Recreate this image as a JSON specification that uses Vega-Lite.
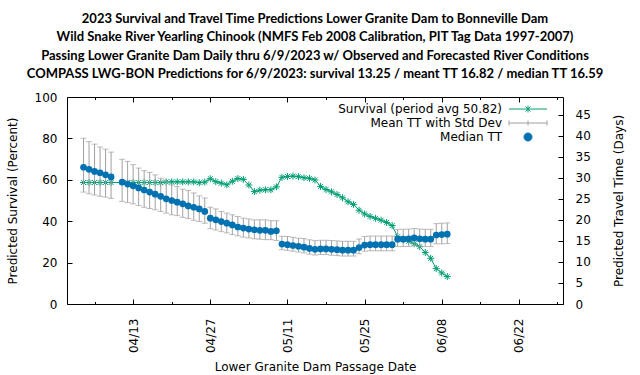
{
  "$schema": "https://vega.github.io/schema/vega-lite/v6.json",
  "width": 496,
  "height": 207,
  "autosize": {"type": "none"},
  "padding": {"left": 67, "top": 97, "right": 77, "bottom": 71},
  "background": "white",
  "config": {
    "view": {"stroke": "black", "strokeWidth": 1},
    "font": "DejaVu Sans",
    "axis": {
      "labelFont": "DejaVu Sans", "labelFontSize": 12, "labelColor": "black",
      "titleFont": "DejaVu Sans", "titleFontSize": 12, "titleFontWeight": "normal", "titleColor": "black",
      "tickColor": "black", "domain": false, "grid": false,
      "labelFlush": false, "labelOverlap": false, "labelBound": false
    }
  },
  "title": {
    "text": [
      "2023 Survival and Travel Time Predictions Lower Granite Dam to Bonneville Dam",
      "Wild Snake River Yearling Chinook (NMFS Feb 2008 Calibration, PIT Tag Data 1997-2007)",
      "Passing Lower Granite Dam Daily thru 6/9/2023 w/ Observed and Forecasted River Conditions",
      "COMPASS LWG-BON Predictions for 6/9/2023: survival 13.25 / meant TT 16.82 / median TT 16.59"
    ],
    "font": "Lato", "fontSize": 13, "fontWeight": "bold", "color": "black",
    "anchor": "middle", "frame": "group", "offset": 10, "lineHeight": 18.3
  },
  "data": {"values": [
    {"date": "2023-04-04T00:00", "surv": 58.7, "med": 32.5, "mean": 33.0, "sd": 6.4},
    {"date": "2023-04-05T00:00", "surv": 58.7, "med": 32.0, "mean": 32.4, "sd": 6.2},
    {"date": "2023-04-06T00:00", "surv": 58.7, "med": 31.5, "mean": 31.95, "sd": 6.05},
    {"date": "2023-04-07T00:00", "surv": 58.7, "med": 31.2, "mean": 31.45, "sd": 5.85},
    {"date": "2023-04-08T00:00", "surv": 58.7, "med": 30.7, "mean": 31.1, "sd": 5.7},
    {"date": "2023-04-09T00:00", "surv": 58.7, "med": 30.2, "mean": 30.6, "sd": 5.5},
    {"date": "2023-04-11T00:00", "surv": 58.7, "med": 29.0, "mean": 29.4, "sd": 5.0},
    {"date": "2023-04-12T00:00", "surv": 58.7, "med": 28.5, "mean": 29.0, "sd": 4.9},
    {"date": "2023-04-13T00:00", "surv": 58.7, "med": 28.1, "mean": 28.45, "sd": 4.65},
    {"date": "2023-04-14T00:00", "surv": 58.7, "med": 27.6, "mean": 27.85, "sd": 4.45},
    {"date": "2023-04-15T00:00", "surv": 58.7, "med": 27.1, "mean": 27.35, "sd": 4.35},
    {"date": "2023-04-16T00:00", "surv": 58.7, "med": 26.6, "mean": 27.0, "sd": 4.3},
    {"date": "2023-04-17T00:00", "surv": 58.7, "med": 26.1, "mean": 26.55, "sd": 4.15},
    {"date": "2023-04-18T00:00", "surv": 58.6, "med": 25.6, "mean": 25.95, "sd": 3.95},
    {"date": "2023-04-19T00:00", "surv": 59.0, "med": 25.0, "mean": 25.35, "sd": 3.75},
    {"date": "2023-04-20T00:00", "surv": 59.0, "med": 24.6, "mean": 24.75, "sd": 3.55},
    {"date": "2023-04-21T00:00", "surv": 59.0, "med": 24.2, "mean": 24.45, "sd": 3.45},
    {"date": "2023-04-22T00:00", "surv": 59.0, "med": 23.8, "mean": 23.95, "sd": 3.35},
    {"date": "2023-04-23T00:00", "surv": 59.0, "med": 23.3, "mean": 23.65, "sd": 3.35},
    {"date": "2023-04-24T00:00", "surv": 59.0, "med": 23.0, "mean": 23.15, "sd": 3.25},
    {"date": "2023-04-25T00:00", "surv": 58.6, "med": 22.6, "mean": 22.65, "sd": 3.05},
    {"date": "2023-04-26T00:00", "surv": 58.9, "med": 22.0, "mean": 22.2, "sd": 3.0},
    {"date": "2023-04-27T00:00", "surv": 60.5, "med": 20.4, "mean": 20.45, "sd": 2.55},
    {"date": "2023-04-28T00:00", "surv": 59.1, "med": 20.0, "mean": 20.1, "sd": 2.5},
    {"date": "2023-04-29T00:00", "surv": 58.4, "med": 19.6, "mean": 19.6, "sd": 2.4},
    {"date": "2023-04-30T00:00", "surv": 57.6, "med": 19.2, "mean": 19.25, "sd": 2.35},
    {"date": "2023-05-01T00:00", "surv": 59.3, "med": 18.8, "mean": 18.85, "sd": 2.35},
    {"date": "2023-05-02T00:00", "surv": 60.6, "med": 18.3, "mean": 18.5, "sd": 2.3},
    {"date": "2023-05-03T00:00", "surv": 60.2, "med": 18.05, "mean": 18.15, "sd": 2.25},
    {"date": "2023-05-04T00:00", "surv": 57.5, "med": 17.8, "mean": 17.95, "sd": 2.25},
    {"date": "2023-05-05T00:00", "surv": 54.3, "med": 17.65, "mean": 17.75, "sd": 2.25},
    {"date": "2023-05-06T00:00", "surv": 55.0, "med": 17.5, "mean": 17.7, "sd": 2.3},
    {"date": "2023-05-07T00:00", "surv": 55.2, "med": 17.5, "mean": 17.65, "sd": 2.35},
    {"date": "2023-05-08T00:00", "surv": 55.2, "med": 17.25, "mean": 17.55, "sd": 2.25},
    {"date": "2023-05-09T00:00", "surv": 56.6, "med": 17.4, "mean": 17.45, "sd": 2.35},
    {"date": "2023-05-10T00:00", "surv": 61.2, "med": 14.25, "mean": 14.5, "sd": 1.6},
    {"date": "2023-05-11T00:00", "surv": 61.6, "med": 14.1, "mean": 14.4, "sd": 1.65},
    {"date": "2023-05-12T00:00", "surv": 61.8, "med": 13.9, "mean": 14.2, "sd": 1.65},
    {"date": "2023-05-13T00:00", "surv": 61.5, "med": 13.7, "mean": 14.0, "sd": 1.65},
    {"date": "2023-05-14T00:00", "surv": 61.0, "med": 13.5, "mean": 13.85, "sd": 1.7},
    {"date": "2023-05-15T00:00", "surv": 60.7, "med": 13.2, "mean": 13.55, "sd": 1.7},
    {"date": "2023-05-16T00:00", "surv": 59.9, "med": 13.0, "mean": 13.35, "sd": 1.7},
    {"date": "2023-05-17T00:00", "surv": 56.8, "med": 13.1, "mean": 13.45, "sd": 1.7},
    {"date": "2023-05-18T00:00", "surv": 55.3, "med": 13.1, "mean": 13.45, "sd": 1.7},
    {"date": "2023-05-19T00:00", "surv": 54.2, "med": 13.0, "mean": 13.35, "sd": 1.75},
    {"date": "2023-05-20T00:00", "surv": 52.9, "med": 12.9, "mean": 13.25, "sd": 1.75},
    {"date": "2023-05-21T00:00", "surv": 51.3, "med": 12.8, "mean": 13.15, "sd": 1.75},
    {"date": "2023-05-22T00:00", "surv": 49.4, "med": 12.8, "mean": 13.15, "sd": 1.75},
    {"date": "2023-05-23T00:00", "surv": 48.1, "med": 12.8, "mean": 13.15, "sd": 1.75},
    {"date": "2023-05-24T00:00", "surv": 45.3, "med": 13.4, "mean": 13.7, "sd": 1.75},
    {"date": "2023-05-25T00:00", "surv": 43.5, "med": 14.0, "mean": 14.3, "sd": 1.75},
    {"date": "2023-05-26T00:00", "surv": 42.3, "med": 14.1, "mean": 14.4, "sd": 1.75},
    {"date": "2023-05-27T00:00", "surv": 41.4, "med": 14.1, "mean": 14.4, "sd": 1.75},
    {"date": "2023-05-28T00:00", "surv": 40.5, "med": 14.1, "mean": 14.4, "sd": 1.75},
    {"date": "2023-05-29T00:00", "surv": 39.4, "med": 14.1, "mean": 14.4, "sd": 1.75},
    {"date": "2023-05-30T00:00", "surv": 37.9, "med": 14.1, "mean": 14.4, "sd": 1.75},
    {"date": "2023-05-31T00:00", "surv": 32.5, "med": 15.4, "mean": 15.7, "sd": 2.05},
    {"date": "2023-06-01T00:00", "surv": 31.4, "med": 15.4, "mean": 15.7, "sd": 2.05},
    {"date": "2023-06-02T00:00", "surv": 30.3, "med": 15.5, "mean": 15.75, "sd": 2.05},
    {"date": "2023-06-03T00:00", "surv": 29.1, "med": 15.7, "mean": 15.9, "sd": 2.05},
    {"date": "2023-06-04T00:00", "surv": 27.7, "med": 15.5, "mean": 15.75, "sd": 2.05},
    {"date": "2023-06-05T00:00", "surv": 24.9, "med": 15.4, "mean": 15.7, "sd": 2.05},
    {"date": "2023-06-06T00:00", "surv": 22.1, "med": 15.4, "mean": 15.7, "sd": 2.05},
    {"date": "2023-06-07T00:00", "surv": 17.1, "med": 16.4, "mean": 16.7, "sd": 2.4},
    {"date": "2023-06-08T00:00", "surv": 15.0, "med": 16.5, "mean": 16.75, "sd": 2.45},
    {"date": "2023-06-09T00:00", "surv": 13.25, "med": 16.59, "mean": 16.82, "sd": 2.45}
  ]},
  "layer": [
    {
      "layer": [
        {
          "mark": {"type": "line", "color": "#009e73", "strokeWidth": 1},
          "encoding": {
            "x": {"field": "date", "type": "temporal",
              "scale": {"domain": [{"year": 2023, "month": 4, "date": 1}, {"year": 2023, "month": 6, "date": 30}]},
              "title": "Lower Granite Dam Passage Date",
              "axis": {
                "orient": "bottom",
                "values": [
                  {"year": 2023, "month": 4, "date": 6}, {"year": 2023, "month": 4, "date": 13}, {"year": 2023, "month": 4, "date": 20}, {"year": 2023, "month": 4, "date": 27},
                  {"year": 2023, "month": 5, "date": 4}, {"year": 2023, "month": 5, "date": 11}, {"year": 2023, "month": 5, "date": 18}, {"year": 2023, "month": 5, "date": 25},
                  {"year": 2023, "month": 6, "date": 1}, {"year": 2023, "month": 6, "date": 8}, {"year": 2023, "month": 6, "date": 15}, {"year": 2023, "month": 6, "date": 22},
                  {"year": 2023, "month": 6, "date": 29}
                ],
                "labelExpr": "round((datum.value - datetime(2023,3,13)) / 864e5) % 14 == 0 ? timeFormat(datum.value, '%m/%d') : ''",
                "labelAngle": 270,
                "labelPadding": 19,
                "tickSize": {"condition": {"test": "round((datum.value - datetime(2023,3,13)) / 864e5) % 14 == 0", "value": -5}, "value": -2.5},
                "titlePadding": 9
              }
            },
            "y": {"field": "surv", "type": "quantitative",
              "scale": {"domain": [0, 100], "nice": false},
              "title": "Predicted Survival (Percent)",
              "axis": {"orient": "left", "values": [0, 20, 40, 60, 80, 100], "tickSize": -5, "labelPadding": 15, "titlePadding": 15}
            }
          }
        },
        {
          "mark": {"type": "point", "shape": "M-1,0H1M0,-1V1M-0.7,-0.7L0.7,0.7M-0.7,0.7L0.7,-0.7", "filled": false, "color": "#009e73", "size": 49, "strokeWidth": 1, "opacity": 1},
          "encoding": {
            "x": {"field": "date", "type": "temporal"},
            "y": {"field": "surv", "type": "quantitative"}
          }
        }
      ]
    },
    {
      "layer": [
        {
          "mark": {"type": "errorbar", "color": "#a0a0a0", "thickness": 1, "ticks": {"size": 6, "color": "#a0a0a0"}},
          "encoding": {
            "x": {"field": "date", "type": "temporal",
              "axis": {
                "orient": "top", "labels": false, "title": null,
                "values": [
                  {"year": 2023, "month": 4, "date": 6}, {"year": 2023, "month": 4, "date": 13}, {"year": 2023, "month": 4, "date": 20}, {"year": 2023, "month": 4, "date": 27},
                  {"year": 2023, "month": 5, "date": 4}, {"year": 2023, "month": 5, "date": 11}, {"year": 2023, "month": 5, "date": 18}, {"year": 2023, "month": 5, "date": 25},
                  {"year": 2023, "month": 6, "date": 1}, {"year": 2023, "month": 6, "date": 8}, {"year": 2023, "month": 6, "date": 15}, {"year": 2023, "month": 6, "date": 22},
                  {"year": 2023, "month": 6, "date": 29}
                ],
                "tickSize": {"condition": {"test": "round((datum.value - datetime(2023,3,13)) / 864e5) % 14 == 0", "value": -5}, "value": -2.5}
              }
            },
            "y": {"field": "mean", "type": "quantitative",
              "scale": {"domain": [0, 49.2], "nice": false},
              "title": "Predicted Travel Time (Days)",
              "axis": {"orient": "right", "values": [0, 5, 10, 15, 20, 25, 30, 35, 40, 45], "tickSize": -5, "labelPadding": 17, "titleAngle": 270, "titlePadding": 35}
            },
            "yError": {"field": "sd"}
          }
        },
        {
          "mark": {"type": "circle", "color": "#0072b2", "size": 45, "opacity": 1},
          "encoding": {
            "x": {"field": "date", "type": "temporal"},
            "y": {"field": "med", "type": "quantitative",
              "scale": {"domain": [0, 49.2], "nice": false},
              "title": "Predicted Travel Time (Days)",
              "axis": {"orient": "right", "values": [0, 5, 10, 15, 20, 25, 30, 35, 40, 45], "tickSize": -5, "labelPadding": 17, "titleAngle": 270, "titlePadding": 35}
            }
          }
        }
      ]
    },
    {
      "transform": [{"filter": "false"}],
      "mark": {"type": "point", "filled": true, "opacity": 1, "strokeWidth": 1},
      "encoding": {
        "color": {"field": "series", "type": "nominal",
          "scale": {"domain": ["Survival (period avg 50.82)", "Mean TT with Std Dev", "Median TT"], "range": ["#009e73", "#a0a0a0", "#0072b2"]},
          "legend": {"title": null, "orient": "none", "legendX": 455, "legendY": 6, "labelAlign": "right", "labelOffset": -32, "symbolSize": 100, "symbolStrokeWidth": 1, "labelFont": "DejaVu Sans", "labelFontSize": 12, "labelColor": "black", "rowPadding": 2, "padding": 0, "labelLimit": 400}
        },
        "stroke": {"field": "series", "type": "nominal",
          "scale": {"domain": ["Survival (period avg 50.82)", "Mean TT with Std Dev", "Median TT"], "range": ["#009e73", "#a0a0a0", "#0072b2"]},
          "legend": {"title": null, "orient": "none", "legendX": 455, "legendY": 6, "labelAlign": "right", "labelOffset": -32, "symbolSize": 100, "symbolStrokeWidth": 1, "labelFont": "DejaVu Sans", "labelFontSize": 12, "labelColor": "black", "rowPadding": 2, "padding": 0, "labelLimit": 400}
        },
        "shape": {"field": "series", "type": "nominal",
          "scale": {"domain": ["Survival (period avg 50.82)", "Mean TT with Std Dev", "Median TT"],
            "range": [
              "M-3.8,0H3.8M0,-0.7V0.7M-0.5,-0.5L0.5,0.5M-0.5,0.5L0.5,-0.5",
              "M-3.8,0H3.8M-3.8,-0.5V0.5M3.8,-0.5V0.5M0,-0.5V0.5",
              "M0.8,0A0.8,0.8,0,1,1,-0.8,0A0.8,0.8,0,1,1,0.8,0Z"
            ]},
          "legend": {"title": null, "orient": "none", "legendX": 455, "legendY": 6, "labelAlign": "right", "labelOffset": -32, "symbolSize": 100, "symbolStrokeWidth": 1, "labelFont": "DejaVu Sans", "labelFontSize": 12, "labelColor": "black", "rowPadding": 2, "padding": 0, "labelLimit": 400}
        }
      }
    }
  ],
  "resolve": {"scale": {"y": "independent"}, "axis": {"x": "independent"}}
}
